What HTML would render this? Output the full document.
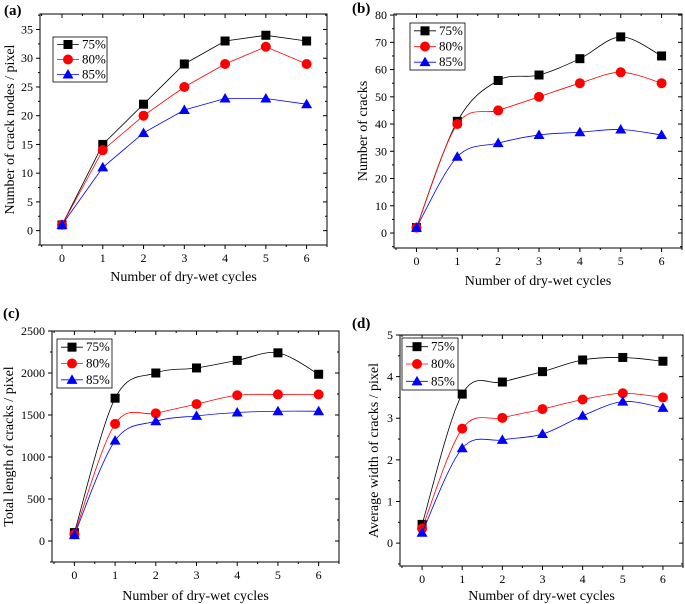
<!DOCTYPE html>
<html><head><meta charset="utf-8"><style>
body{margin:0;background:#fff;width:685px;height:604px;overflow:hidden}
svg{display:block}
svg text{font-family:"Liberation Serif","DejaVu Serif","Times New Roman",serif}
</style></head><body>
<svg id="fig" width="685" height="604" viewBox="0 0 685 604" font-family="'Liberation Serif', 'DejaVu Serif', serif"></svg>
<script>
const cycles=[0,1,2,3,4,5,6];
const seriesNames=["75%","80%","85%"];
const aNodes75=[1,15,22,29,33,34,33];
const aNodes80=[1,14,20,25,29,32,29];
const aNodes85=[1,11,17,21,23,23,22];
const bCracks75=[2,41,56,58,64,72,65];
const bCracks80=[2,40,45,50,55,59,55];
const bCracks85=[2,28,33,36,37,38,36];
const cLength75=[100,1700,2000,2060,2150,2240,1985];
const cLength80=[80,1395,1520,1630,1735,1745,1745];
const cLength85=[70,1195,1425,1490,1530,1545,1545];
const dWidth75=[0.45,3.58,3.87,4.12,4.40,4.46,4.37];
const dWidth80=[0.35,2.75,3.01,3.22,3.45,3.60,3.50];
const dWidth85=[0.25,2.28,2.48,2.62,3.06,3.40,3.25];
const aTicks=[0,5,10,15,20,25,30,35];
const bTicks=[0,10,20,30,40,50,60,70,80];
const cTicks=[0,500,1000,1500,2000,2500];
const dTicks=[0,1,2,3,4,5];

const NS="http://www.w3.org/2000/svg";
const FONT="'Liberation Serif', 'DejaVu Serif', serif";
const svg=document.getElementById('fig');
function mk(tag,attrs,parent,text){const e=document.createElementNS(NS,tag);for(const k in attrs)e.setAttribute(k,attrs[k]);if(tag==='text')e.setAttribute('font-family',FONT);if(text!==undefined)e.textContent=text;(parent||svg).appendChild(e);return e;}
const colors=["#000","#f00","#00f"];
const markers=["square","circle","triangle"];
function marker(g,type,x,y,c){
  let e;
  if(type==="square")e=mk('rect',{x:x-4.5,y:y-4.5,width:9,height:9,fill:c},g);
  else if(type==="circle")e=mk('circle',{cx:x,cy:y,r:5,fill:c},g);
  else e=mk('polygon',{points:`${x},${y-5.5} ${x+5.5},${y+4} ${x-5.5},${y+4}`,fill:c},g);
  return e;
}
function curvePath(pts,smooth){
  if(!smooth)return "M"+pts.map(p=>p[0].toFixed(1)+","+p[1].toFixed(1)).join("L");
  let d="M"+pts[0][0]+","+pts[0][1];
  for(let i=0;i<pts.length-1;i++){
    const p0=pts[Math.max(0,i-1)],p1=pts[i],p2=pts[i+1],p3=pts[Math.min(pts.length-1,i+2)];
    const t=1/6;
    d+=`C${p1[0]+(p2[0]-p0[0])*t},${p1[1]+(p2[1]-p0[1])*t} ${p2[0]-(p3[0]-p1[0])*t},${p2[1]-(p3[1]-p1[1])*t} ${p2[0]},${p2[1]}`;
  }
  return d;
}
function panel(cfg){
  const g=mk('g',{});
  
  
  const {L,R,T,B,xmin,xmax,ymin,ymax}=cfg;
  const X=v=>L+(v-xmin)/(xmax-xmin)*(R-L);
  const Y=v=>B-(v-ymin)/(ymax-ymin)*(B-T);
  const box=mk('rect',{x:L,y:T,width:R-L,height:B-T,fill:'none',stroke:'#000','stroke-width':1},g);
  
  for(let v=Math.ceil(xmin*2)/2;v<=xmax;v+=0.5){
    const maj=Number.isInteger(v);const len=maj?4:2;
    mk('line',{x1:X(v),x2:X(v),y1:B,y2:B+len,stroke:'#000'},g);
    mk('line',{x1:X(v),x2:X(v),y1:T,y2:T+len,stroke:'#000'},g);
    if(maj){const t=mk('text',{x:X(v),y:B+17,'font-size':12,'text-anchor':'middle'},g,String(v));
      }
  }
  const tk=cfg.ticks,step=tk[1]-tk[0];
  for(let v=tk[0]-step/2;v<=ymax+1e-9;v+=step/2){
    if(v<ymin-1e-9)continue;
    const maj=Math.abs((v-tk[0])/step-Math.round((v-tk[0])/step))<1e-6;const len=maj?4:2;
    mk('line',{x1:L-len,x2:L,y1:Y(v),y2:Y(v),stroke:'#000'},g);
    mk('line',{x1:R-len,x2:R,y1:Y(v),y2:Y(v),stroke:'#000'},g);
  }
  tk.forEach(v=>{const t=mk('text',{x:L-7,y:Y(v)+4,'font-size':12,'text-anchor':'end'},g,String(v));
    });
  const xt=mk('text',{x:(L+R)/2,y:cfg.xtY,'font-size':14,'text-anchor':'middle'},g,'Number of dry-wet cycles');
  
  const yt=mk('text',{x:0,y:0,'font-size':14,'text-anchor':'middle',transform:`translate(${cfg.ytX},${(T+B)/2}) rotate(-90)`},g,cfg.ytitle);
  
  const pl=mk('text',{x:cfg.lab[0],y:cfg.lab[1],'font-size':15,'font-weight':'bold'},g,cfg.label);
  
  cfg.series.forEach((s,i)=>{
    const pts=cycles.map((c,j)=>[X(c),Y(s[j])]);
    const p=mk('path',{d:curvePath(pts,cfg.smooth),fill:'none',stroke:colors[i],'stroke-width':0.8},g);
    
    
    pts.forEach(q=>{const m=marker(g,markers[i],q[0],q[1],colors[i]);
      });
  });
  const [lx,ly,lw,lh]=cfg.leg;
  const lg=mk('g',{},g);
  
  mk('rect',{x:lx,y:ly,width:lw,height:lh,fill:'#fff',stroke:'#000','stroke-width':0.8},lg);
  seriesNames.forEach((n,i)=>{
    const yy=ly+lh*(i+0.5)/3;
    mk('line',{x1:lx+4,x2:lx+26,y1:yy,y2:yy,stroke:colors[i],'stroke-width':0.8},lg);
    marker(lg,markers[i],lx+15,yy,colors[i]);
    const t=mk('text',{x:lx+29,y:yy+4,'font-size':13},lg,n);
    
  });
}
panel({name:'chart-a-crack-nodes',L:40,R:327,T:14,B:245,xmin:-0.54,xmax:6.5,ymin:-2.5,ymax:37.7,ticks:aTicks,
  series:[aNodes75,aNodes80,aNodes85],smooth:false,ytitle:'Number of crack nodes / pixel',ytX:14,xtY:281,label:'(a)',lab:[4,15],leg:[53,37,54,45]});
panel({name:'chart-b-cracks',L:394,R:682,T:14,B:248,xmin:-0.55,xmax:6.5,ymin:-5.5,ymax:80.4,ticks:bTicks,
  series:[bCracks75,bCracks80,bCracks85],smooth:true,ytitle:'Number of cracks',ytX:367,xtY:285,label:'(b)',lab:[352,13],leg:[410,23,55,47]});
panel({name:'chart-c-total-length',L:52,R:339,T:331,B:562,xmin:-0.55,xmax:6.5,ymin:-250,ymax:2500,ticks:cTicks,
  series:[cLength75,cLength80,cLength85],smooth:true,ytitle:'Total length of cracks / pixel',ytX:13,xtY:600,label:'(c)',lab:[3,318],leg:[57,339,55,49]});
panel({name:'chart-d-average-width',L:400,R:683,T:335,B:566,xmin:-0.55,xmax:6.5,ymin:-0.55,ymax:5,ticks:dTicks,
  series:[dWidth75,dWidth80,dWidth85],smooth:true,ytitle:'Average width of cracks / pixel',ytX:378,xtY:600,label:'(d)',lab:[352,328],leg:[402,338,56,52]});
</script>
</body></html>
